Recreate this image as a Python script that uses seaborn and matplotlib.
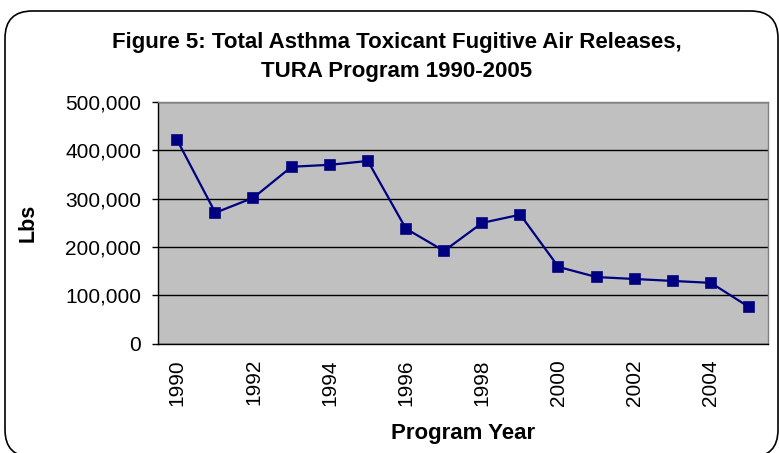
import matplotlib
matplotlib.use("Agg")
import matplotlib.pyplot as plt
from matplotlib.patches import FancyBboxPatch
from matplotlib.ticker import FuncFormatter
import seaborn as sns
import pandas as pd
import numpy as np

years = list(range(1990, 2006))
lbs = [421000, 271000, 302000, 366000, 370000, 378000, 238000, 192000,
       250000, 267000, 159000, 138000, 134000, 130000, 126000, 76000]

df = pd.DataFrame({"Year": [str(y) for y in years], "Lbs": lbs})

sns.set_style("white")
plt.rcParams['font.family'] = ['Liberation Sans', 'DejaVu Sans']
plt.rcParams['text.color'] = 'black'
plt.rcParams['axes.labelcolor'] = 'black'
plt.rcParams['xtick.color'] = 'black'
plt.rcParams['ytick.color'] = 'black'

fig = plt.figure(figsize=(7.79, 4.53), dpi=100)
ax = fig.add_axes([0.203, 0.241, 0.783, 0.534])

sns.pointplot(data=df, x="Year", y="Lbs", color="#000080", markers="s",
              markersize=7.5, linewidth=1.6, ax=ax)

ax.set_facecolor("#C0C0C0")
ax.set_xlim(-0.5, len(years) - 0.5)
ax.set_ylim(0, 500000)
ax.set_yticks(np.arange(0, 500001, 100000))
ax.yaxis.set_major_formatter(FuncFormatter(lambda v, p: f"{int(v):,}"))
ax.grid(axis="y", color="black", linewidth=1)
ax.set_axisbelow(True)

ax.set_xticks(range(0, len(years), 2))
ax.set_xticklabels([str(y) for y in years[::2]], rotation=90)
ax.set_xticks(np.arange(-0.5, len(years), 1), minor=True)
ax.tick_params(axis="x", which="major", length=0, pad=11, labelsize=15)
ax.tick_params(axis="x", which="minor", length=4.3, width=1, color="black", direction="out")
ax.tick_params(axis="y", length=4.3, width=1, color="black", direction="out",
               labelsize=15, left=True, pad=8)

for s in ["left", "bottom"]:
    ax.spines[s].set_color("black")
    ax.spines[s].set_linewidth(1)
for s in ["top", "right"]:
    ax.spines[s].set_color("#808080")
    ax.spines[s].set_linewidth(1)

ax.set_xlabel("Program Year", fontsize=16, fontweight="bold", labelpad=12)
ax.set_ylabel("Lbs", fontsize=15.5, fontweight="bold", labelpad=19)

fig.text(0.509, 0.874, "Figure 5: Total Asthma Toxicant Fugitive Air Releases,\nTURA Program 1990-2005",
         ha="center", va="center", fontsize=16, fontweight="bold", linespacing=1.45)

border = FancyBboxPatch((5 / 779, -4 / 453), 773 / 779, 446 / 453,
                        boxstyle="round,pad=0,rounding_size=0.035",
                        transform=fig.transFigure, fill=False, edgecolor="black", linewidth=1.2,
                        mutation_aspect=779 / 453)
fig.patches.append(border)

fig.savefig("out.png", dpi=100)
